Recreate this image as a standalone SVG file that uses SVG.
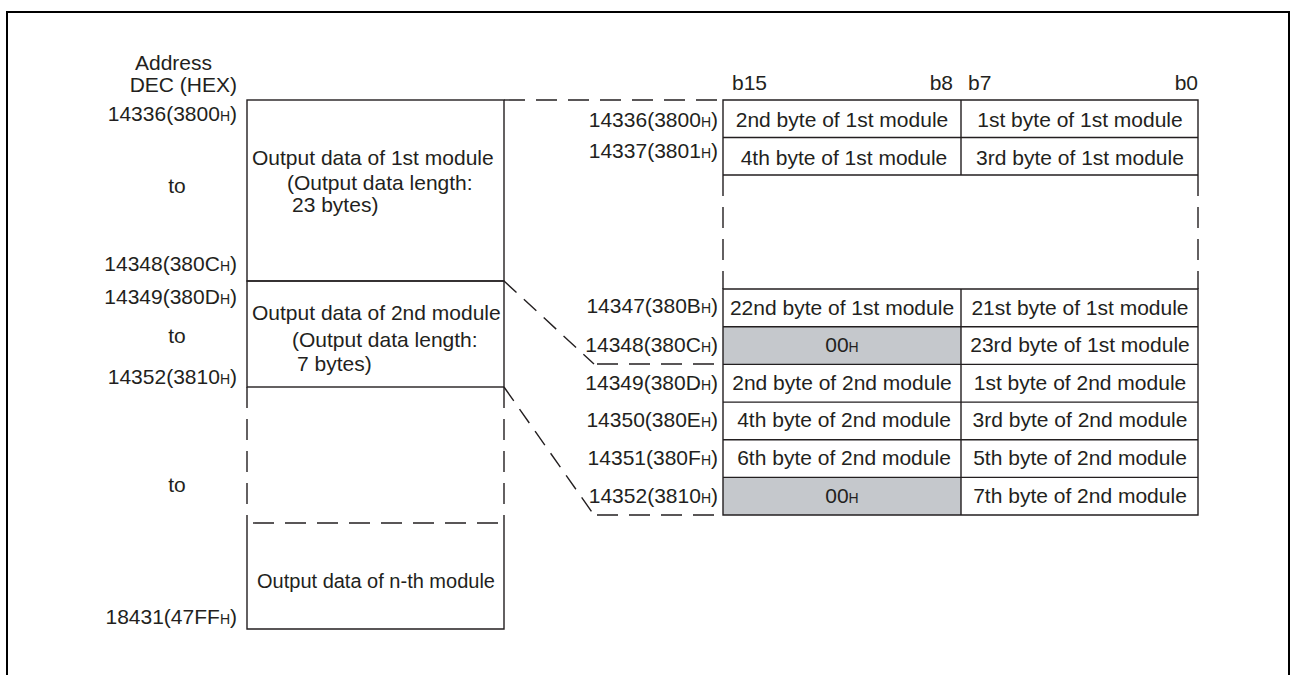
<svg xmlns="http://www.w3.org/2000/svg" width="1292" height="675" viewBox="0 0 1292 675">
<style>
text{font-family:"Liberation Sans",Arial,sans-serif;font-size:21px;fill:#231f20}
.r{text-anchor:end}
.m{text-anchor:middle}
.h{font-size:14px}
.ln{stroke:#231f20;stroke-width:1.4;fill:none}
.d{stroke:#231f20;stroke-width:1.4;fill:none;stroke-dasharray:21 11}
.g{fill:#c5c8cc}
</style>
<rect x="7" y="12" width="1282" height="700" fill="#fff" stroke="#000" stroke-width="2"/>

<g id="header">
<text x="135" y="70">Address</text>
<text x="237" y="92" class="r">DEC (HEX)</text>
<text x="732" y="90">b15</text>
<text x="953" y="90" class="r">b8</text>
<text x="968" y="90">b7</text>
<text x="1198" y="90" class="r">b0</text>
</g>

<g id="left-addresses">
<text x="237" y="121" class="r">14336(3800<tspan class="h">H</tspan>)</text>
<text x="177" y="193" class="m">to</text>
<text x="237" y="271" class="r">14348(380C<tspan class="h">H</tspan>)</text>
<text x="237" y="304" class="r">14349(380D<tspan class="h">H</tspan>)</text>
<text x="177" y="343" class="m">to</text>
<text x="237" y="384" class="r">14352(3810<tspan class="h">H</tspan>)</text>
<text x="177" y="492" class="m">to</text>
<text x="237" y="624" class="r">18431(47FF<tspan class="h">H</tspan>)</text>
</g>

<g id="mod1">
<rect x="247" y="100" width="257" height="181" class="ln"/>
<text x="252" y="165">Output data of 1st module</text>
<text x="287" y="190">(Output data length:</text>
<text x="292" y="212">23 bytes)</text>
</g>

<g id="mod2">
<rect x="247" y="281" width="257" height="106" class="ln"/>
<text x="252" y="320">Output data of 2nd module</text>
<text x="292" y="347">(Output data length:</text>
<text x="297" y="371">7 bytes)</text>
</g>

<g id="gap-left">
<line x1="247" y1="387" x2="247" y2="523" class="d"/>
<line x1="504" y1="387" x2="504" y2="523" class="d"/>
<line x1="247" y1="523" x2="504" y2="523" class="d" style="stroke-dashoffset:-6"/>
</g>

<g id="modn">
<path d="M247 523 V629 H504 V523" class="ln"/>
<text x="376" y="588" class="m" style="font-size:20px">Output data of n-th module</text>
</g>

<g id="connectors">
<line x1="504" y1="100" x2="723" y2="100" class="d"/>
<line x1="504" y1="281" x2="594" y2="364" class="d" style="stroke-dasharray:17 10"/>
<line x1="597" y1="364" x2="723" y2="364" class="d"/>
<line x1="504" y1="387" x2="594" y2="515" class="d" style="stroke-dasharray:17 10"/>
<line x1="597" y1="515" x2="723" y2="515" class="d"/>
</g>

<g id="right-addresses">
<text x="718" y="127" class="r">14336(3800<tspan class="h">H</tspan>)</text>
<text x="718" y="158" class="r">14337(3801<tspan class="h">H</tspan>)</text>
<text x="718" y="313" class="r">14347(380B<tspan class="h">H</tspan>)</text>
<text x="718" y="352" class="r">14348(380C<tspan class="h">H</tspan>)</text>
<text x="718" y="390" class="r">14349(380D<tspan class="h">H</tspan>)</text>
<text x="718" y="427" class="r">14350(380E<tspan class="h">H</tspan>)</text>
<text x="718" y="465" class="r">14351(380F<tspan class="h">H</tspan>)</text>
<text x="718" y="503" class="r">14352(3810<tspan class="h">H</tspan>)</text>
</g>

<g id="word-table">
<rect x="723" y="326.7" width="238" height="37.7" class="g"/>
<rect x="723" y="477.4" width="238" height="37.6" class="g"/>
<path d="M723 175 V100 H1198 V175 M723 137.5 H1198 M723 175 H1198 M961 100 V175" class="ln"/>
<line x1="723" y1="175" x2="723" y2="289" class="d"/>
<line x1="1198" y1="175" x2="1198" y2="289" class="d"/>
<path d="M723 289 H1198 V515 H723 Z M723 326.7 H1198 M723 364.4 H1198 M723 402.1 H1198 M723 439.7 H1198 M723 477.4 H1198 M961 289 V515" class="ln"/>
<text x="842" y="127" class="m">2nd byte of 1st module</text>
<text x="1080" y="127" class="m">1st byte of 1st module</text>
<text x="844" y="165" class="m">4th byte of 1st module</text>
<text x="1080" y="165" class="m">3rd byte of 1st module</text>
<text x="842" y="315" class="m">22nd byte of 1st module</text>
<text x="1080" y="315" class="m">21st byte of 1st module</text>
<text x="842" y="352" class="m">00<tspan class="h">H</tspan></text>
<text x="1080" y="352" class="m">23rd byte of 1st module</text>
<text x="842" y="390" class="m">2nd byte of 2nd module</text>
<text x="1080" y="390" class="m">1st byte of 2nd module</text>
<text x="844" y="427" class="m">4th byte of 2nd module</text>
<text x="1080" y="427" class="m">3rd byte of 2nd module</text>
<text x="844" y="465" class="m">6th byte of 2nd module</text>
<text x="1080" y="465" class="m">5th byte of 2nd module</text>
<text x="842" y="503" class="m">00<tspan class="h">H</tspan></text>
<text x="1080" y="503" class="m">7th byte of 2nd module</text>
</g>
</svg>
